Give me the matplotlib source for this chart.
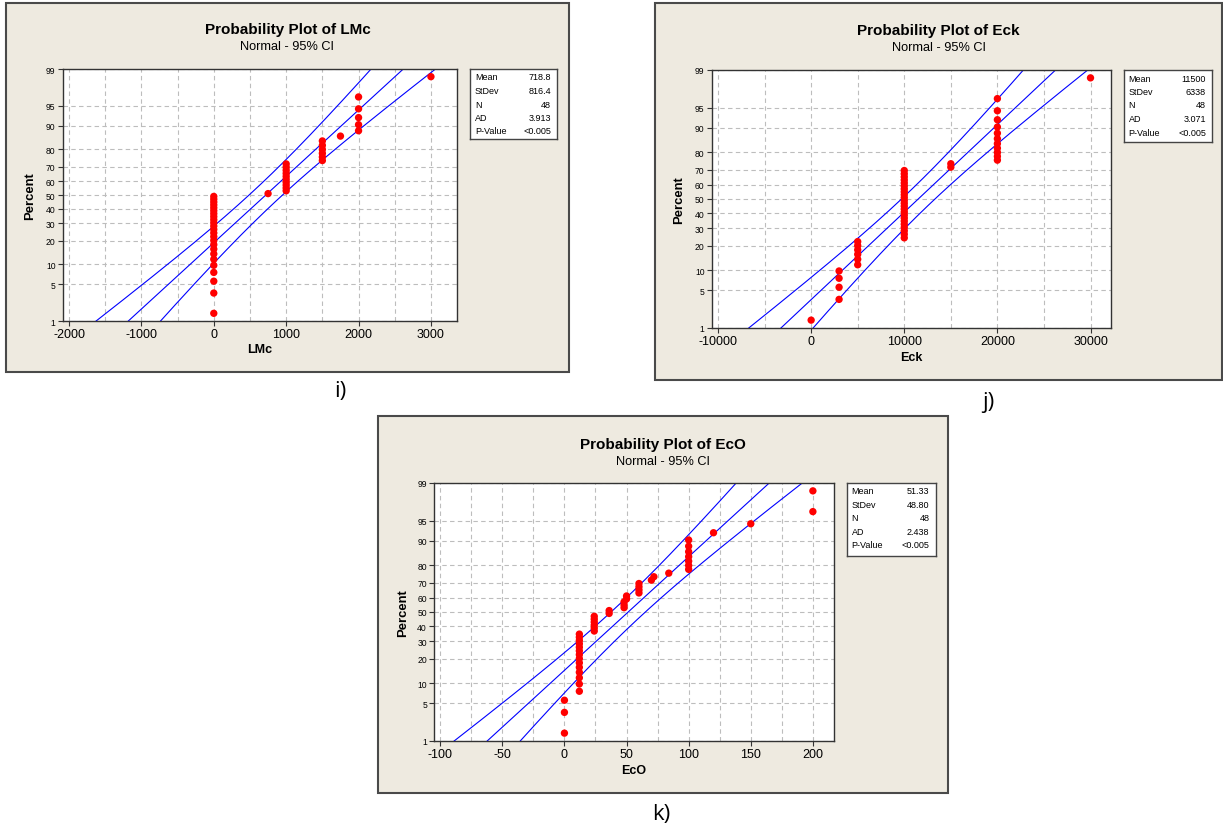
import numpy as np
import matplotlib
matplotlib.use('Agg')
import matplotlib.pyplot as plt
from matplotlib.patches import Rectangle
from statistics import NormalDist

plt.rcParams['font.family'] = ['Liberation Sans', 'DejaVu Sans']

W, H = 1223, 829

# distinct values and how often each shows up
lmc_vals = [0, 750, 1000, 1500, 1750, 2000, 3000]
lmc_counts = [24, 1, 10, 6, 1, 5, 1]
eck_vals = [0, 3000, 5000, 10000, 15000, 20000, 30000]
eck_counts = [1, 4, 6, 23, 2, 11, 1]
eco_vals = [0, 12, 24, 36, 48, 50, 60, 70, 72, 84, 100, 120, 150, 200]
eco_counts = [3, 14, 6, 2, 3, 2, 4, 1, 1, 1, 7, 1, 1, 2]

ad_values = {'LMc': '3.913', 'Eck': '3.071', 'EcO': '2.438'}
p_value = '<0.005'

pct_ticks = [1, 5, 10, 20, 30, 40, 50, 60, 70, 80, 90, 95, 99]

nd = NormalDist()


def z(p):
    return nd.inv_cdf(p / 100.0)


def fig_rect(x0, y0, x1, y1):
    # pixel box (top-left origin) -> figure fraction rect
    return [x0 / W, 1 - y1 / H, (x1 - x0) / W, (y1 - y0) / H]


fig = plt.figure(figsize=(W / 100, H / 100), dpi=100)


def panel(frame, axbox, statbox, vals, counts, name, xlim, xticks, xminor,
          title_y, xlabel_y, ylabel_x, stat_fmt):
    # beige background frame
    r = fig_rect(*frame)
    fig.patches.append(Rectangle((r[0], r[1]), r[2], r[3], transform=fig.transFigure,
                                 facecolor='#EEEAE0', edgecolor='#4a4a4a', lw=1.5, zorder=-10))

    ax = fig.add_axes(fig_rect(*axbox))
    ax.set_facecolor('white')

    data = np.repeat(vals, counts).astype(float)
    n = len(data)
    m = data.mean()
    s = data.std(ddof=1)
    pos = (np.arange(1, n + 1) - 0.3) / (n + 0.4) * 100
    zp = [z(p) for p in pos]

    # fitted line and 95% CI bands
    zz = np.linspace(-3.2, 3.2, 300)
    xp = m + zz * s
    half = 1.96 * s * np.sqrt(1 / n + zz ** 2 / (2 * n))
    for xx in (xp, xp - half, xp + half):
        ax.plot(xx, zz, color='#0000FF', lw=0.8, zorder=2)

    ax.scatter(data, zp, s=28, color='#FF0000', edgecolors='none', zorder=3)

    ax.set_xlim(*xlim)
    ax.set_ylim(z(1), z(99))
    ax.set_xticks(xticks)
    ax.set_xticklabels([str(t) for t in xticks])
    ax.set_xticks(xminor, minor=True)
    ax.set_yticks([z(p) for p in pct_ticks])
    ax.set_yticklabels([str(p) for p in pct_ticks])
    ax.grid(True, which='both', axis='x', ls=(0, (4, 3)), color='#BDBDBD', lw=0.8, zorder=1)
    ax.grid(True, which='major', axis='y', ls=(0, (4, 3)), color='#BDBDBD', lw=0.8, zorder=1)
    ax.set_axisbelow(True)
    ax.tick_params(axis='x', which='major', labelsize=9, length=3.5, pad=1.5, color='#333333')
    ax.tick_params(axis='x', which='minor', length=0)
    ax.tick_params(axis='y', labelsize=6.2, length=3.5, pad=1.5, color='#333333')
    for sp in ax.spines.values():
        sp.set_color('#333333')
        sp.set_linewidth(1.0)

    # titles and axis labels
    tx = (frame[0] + frame[2]) / 2
    fig.text(tx / W, 1 - title_y / H, 'Probability Plot of ' + name, ha='center', va='center',
             fontweight='bold', fontsize=11)
    fig.text(tx / W, 1 - (title_y + 17) / H, 'Normal - 95% CI', ha='center', va='center',
             fontsize=9.2)
    cx = (axbox[0] + axbox[2]) / 2
    fig.text(cx / W, 1 - xlabel_y / H, name, ha='center', va='center', fontweight='bold',
             fontsize=9)
    cy = (axbox[1] + axbox[3]) / 2
    fig.text(ylabel_x / W, 1 - cy / H, 'Percent', ha='center', va='center', rotation=90,
             fontweight='bold', fontsize=9.4)

    # statistics box
    sb = fig.add_axes(fig_rect(*statbox))
    sb.set_xticks([])
    sb.set_yticks([])
    sb.set_facecolor('white')
    for sp in sb.spines.values():
        sp.set_color('#444444')
        sp.set_linewidth(1.0)
    rows = [('Mean', stat_fmt(m)), ('StDev', stat_fmt(s)), ('N', str(n)),
            ('AD', ad_values[name]), ('P-Value', p_value)]
    bh = statbox[3] - statbox[1]
    bw = statbox[2] - statbox[0]
    for i, (lab, val) in enumerate(rows):
        yy = 1 - (8 + i * 13.5) / bh
        sb.text(5 / bw, yy, lab, transform=sb.transAxes, ha='left', va='center', fontsize=6.5)
        sb.text(1 - 6 / bw, yy, val, transform=sb.transAxes, ha='right', va='center', fontsize=6.5)
    return ax


panel((6, 4, 569, 373), (62.5, 70, 457, 322), (470, 70, 557, 140),
      lmc_vals, lmc_counts, 'LMc', (-2090, 3360),
      [-2000, -1000, 0, 1000, 2000, 3000], np.arange(-2000, 3001, 500),
      30, 350, 30, lambda v: f'{v:.1f}')

panel((655, 4, 1222, 381), (711.5, 71, 1111, 329), (1123.5, 71, 1212, 143),
      eck_vals, eck_counts, 'Eck', (-10700, 32200),
      [-10000, 0, 10000, 20000, 30000], np.arange(-10000, 30001, 5000),
      31, 358, 679, lambda v: f'{v:.0f}')

panel((378, 417, 948, 794), (434, 484, 834, 742), (846.5, 484, 935.5, 557),
      eco_vals, eco_counts, 'EcO', (-105, 217),
      [-100, -50, 0, 50, 100, 150, 200], np.arange(-100, 201, 25),
      445, 771, 403, lambda v: f'{v:.2f}')

# panel labels
fig.text(340 / W, 1 - 392 / H, 'i)', ha='center', va='center', fontsize=16, family='Open Sans')
fig.text(988 / W, 1 - 403 / H, 'j)', ha='center', va='center', fontsize=16, family='Open Sans')
fig.text(661 / W, 1 - 815 / H, 'k)', ha='center', va='center', fontsize=16, family='Open Sans')

fig.savefig('out.png', dpi=100, facecolor='white')
